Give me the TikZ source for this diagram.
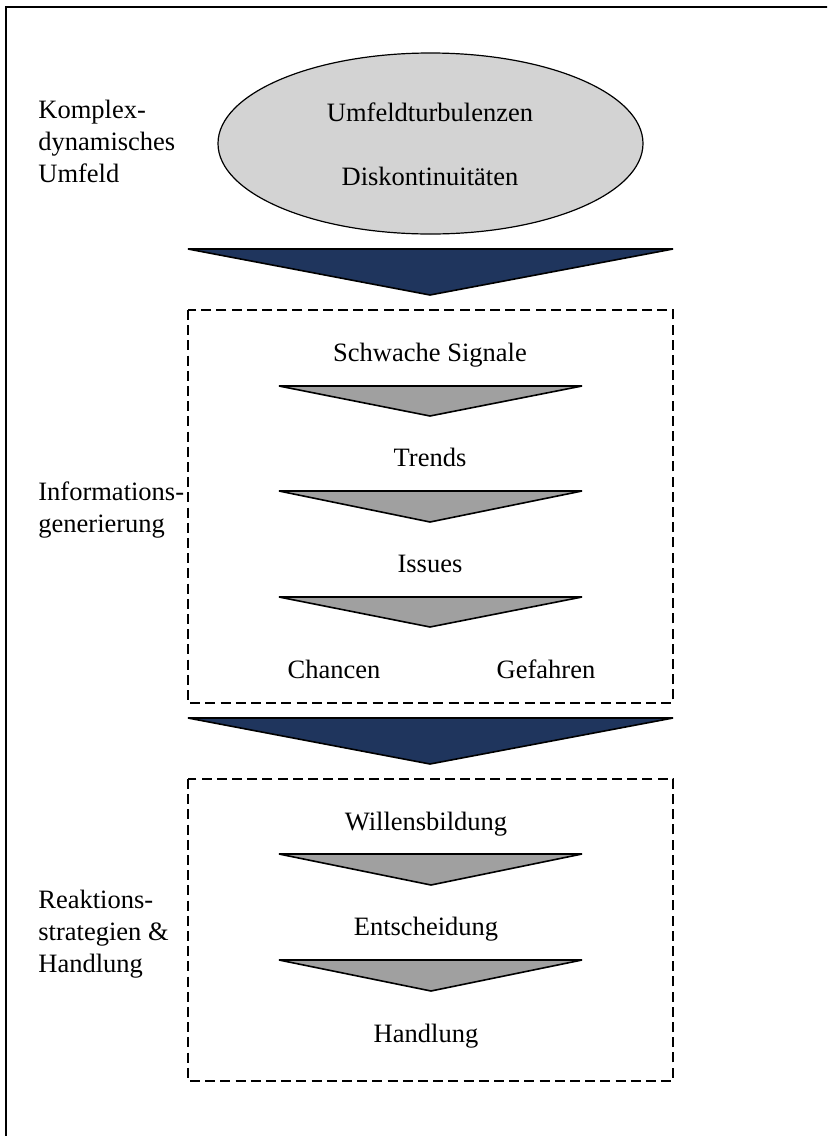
\documentclass[tikz,border=0pt]{standalone}
\usepackage{fontspec}
\setmainfont{Liberation Serif}
\usetikzlibrary{shapes.geometric}
\definecolor{navy}{RGB}{31,53,93}
\definecolor{wedgegray}{RGB}{160,160,160}
\definecolor{cloud}{RGB}{211,211,211}
\begin{document}
\begin{tikzpicture}[x=0.5pt,y=-0.5pt,
  lbl/.style={font=\fontsize{13.25pt}{16pt}\selectfont, inner sep=0pt},
  side/.style={lbl, anchor=base west},
  mid/.style={lbl, anchor=base},
  bigwedge/.style={fill=navy, draw=black, line width=0.8pt, line join=bevel},
  smallwedge/.style={fill=wedgegray, draw=black, line width=0.8pt, line join=bevel},
  stage/.style={draw=black, dash pattern=on 5pt off 2.6pt, line width=1.2pt}]
\useasboundingbox (0,0) rectangle (827,1136);
\clip (0,0) rectangle (827,1136);

% outer frame (runs past the page on the right and bottom)
\draw[line width=1.2pt] (6,1160) -- (6,7) -- (850,7);

% environment
\node[ellipse, draw, fill=cloud, line width=0.6pt, minimum width=212.5pt,
      minimum height=90.5pt, inner sep=0pt] (env) at (430.5,143.5) {};
\node[mid] (turb) at (430,121) {Umfeldturbulenzen};
\node[mid] (disk) at (430,185) {Diskontinuitäten};

\node[side] (k1) at (38,118) {Komplex-};
\node[side] (k2) at (38,150) {dynamisches};
\node[side] (k3) at (38,182) {Umfeld};

% large arrows between the stages
\filldraw[bigwedge] (188,249) -- (673,249) -- (430,295) -- cycle;
\filldraw[bigwedge] (188,718) -- (673,718) -- (430,764) -- cycle;

% information generation
\draw[stage] (188,310) rectangle (673,703);
\node[side] (i1) at (38,500) {Informations-};
\node[side] (i2) at (38,532) {generierung};

\node[mid] (sig) at (430,361) {Schwache Signale};
\filldraw[smallwedge] (279,386) -- (582,386) -- (430,416) -- cycle;
\node[mid] (trd) at (430,466) {Trends};
\filldraw[smallwedge] (279,491) -- (582,491) -- (430,522) -- cycle;
\node[mid] (iss) at (430,572) {Issues};
\filldraw[smallwedge] (279,597) -- (582,597) -- (430,627) -- cycle;
\node[mid] (cha) at (334,678) {Chancen};
\node[mid] (gef) at (546,678) {Gefahren};

% reaction and action
\draw[stage] (188,779) rectangle (673,1081);
\node[side] (r1) at (38,908) {Reaktions-};
\node[side] (r2) at (38,940) {strategien \&};
\node[side] (r3) at (38,972) {Handlung};

\node[mid] (wil) at (426,830) {Willensbildung};
\filldraw[smallwedge] (279,854) -- (582,854) -- (431,885) -- cycle;
\node[mid] (ent) at (426,935) {Entscheidung};
\filldraw[smallwedge] (279,960) -- (582,960) -- (431,991) -- cycle;
\node[mid] (hdl) at (426,1042) {Handlung};
\end{tikzpicture}
\end{document}
